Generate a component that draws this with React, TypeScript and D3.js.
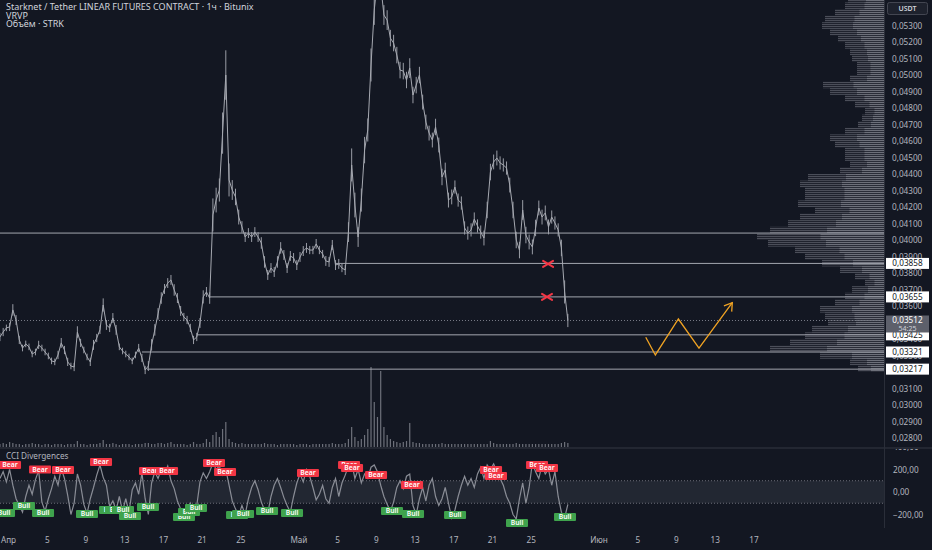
import React, { useEffect, useRef } from "react";
import * as d3 from "d3";

// ---- data ----
const DAY_MS = 86400000;
const BASE = Date.UTC(2025, 3, 1); // 1 Apr
const toDate = (d: number) => new Date(BASE + d * DAY_MS);

// 8h closes, first one at 31 Mar 04:00
const priceStartDay = -5 / 6;
const priceStepDay = 1 / 3;
const closes = [
  0.03412, 0.03442, 0.03467, 0.03473, 0.03576, 0.03515, 0.03394, 0.03345, 0.0337, 0.03352,
  0.03309, 0.03321, 0.03364, 0.03345, 0.03321, 0.03297, 0.03267, 0.03261, 0.03303, 0.03376,
  0.03333, 0.03261, 0.03236, 0.0323, 0.03442, 0.03376, 0.03333, 0.03291, 0.03261, 0.03364,
  0.03406, 0.03455, 0.03606, 0.03485, 0.03467, 0.03527, 0.03455, 0.03352, 0.03327, 0.03309,
  0.03291, 0.03267, 0.03303, 0.03345, 0.03285, 0.03212, 0.03236, 0.03364, 0.03455, 0.03552,
  0.03648, 0.03703, 0.03739, 0.03758, 0.03697, 0.03648, 0.0357, 0.03533, 0.03515, 0.03467,
  0.03394, 0.03412, 0.03497, 0.03655, 0.03685, 0.03648, 0.04152, 0.04242, 0.04303, 0.04648,
  0.05, 0.04364, 0.04303, 0.04261, 0.04139, 0.04079, 0.04018, 0.04042, 0.04018, 0.04048,
  0.04018, 0.03982, 0.03867, 0.03788, 0.0383, 0.03806, 0.03867, 0.03952, 0.03909, 0.0383,
  0.03903, 0.03891, 0.03848, 0.03897, 0.03933, 0.03952, 0.03939, 0.03939, 0.03976, 0.03939,
  0.03915, 0.03873, 0.03867, 0.0397, 0.03848, 0.03855, 0.0383, 0.03818, 0.04048, 0.04455,
  0.04212, 0.04018, 0.04242, 0.04545, 0.04667, 0.05061, 0.05394, 0.05576, 0.05545, 0.05364,
  0.05333, 0.05224, 0.05194, 0.05121, 0.0503, 0.05024, 0.0497, 0.05042, 0.04879, 0.04939,
  0.05, 0.04836, 0.04715, 0.04648, 0.04606, 0.04685, 0.04576, 0.04382, 0.04424, 0.04242,
  0.04261, 0.04321, 0.04242, 0.04224, 0.04073, 0.04042, 0.04061, 0.04127, 0.04085, 0.04048,
  0.04012, 0.04182, 0.04412, 0.04473, 0.04497, 0.04467, 0.04455, 0.04436, 0.04333, 0.04182,
  0.04, 0.03939, 0.04182, 0.0403, 0.03988, 0.03958, 0.04073, 0.04194, 0.04139, 0.04164,
  0.04079, 0.04139, 0.04103, 0.04061, 0.03952, 0.03685, 0.03512,
];
// high-low range of each 8h bar, in 0.0001
const ranges = [
  5, 5, 4, 5, 7, 6, 5, 4, 4, 4, 4, 4, 5, 4, 4, 4, 4, 4, 5, 6,
  5, 5, 4, 5, 7, 5, 4, 4, 5, 6, 5, 5, 8, 6, 5, 6, 6, 4, 4, 4,
  4, 4, 4, 5, 5, 5, 6, 7, 7, 7, 7, 6, 6, 6, 7, 6, 6, 5, 5, 5,
  5, 5, 6, 8, 6, 7, 20, 15, 14, 25, 30, 20, 12, 10, 9, 7, 6, 6, 6, 6,
  6, 7, 7, 6, 6, 6, 7, 7, 6, 6, 6, 6, 6, 6, 6, 6, 5, 5, 6, 5,
  5, 6, 6, 6, 6, 6, 5, 6, 12, 20, 15, 12, 14, 16, 14, 20, 18, 15, 15, 12,
  12, 10, 10, 10, 10, 10, 10, 12, 10, 10, 10, 9, 9, 9, 9, 10, 9, 10, 9, 9,
  9, 8, 8, 8, 8, 8, 8, 8, 8, 8, 9, 10, 10, 9, 9, 8, 8, 8, 9, 10,
  10, 10, 12, 10, 9, 9, 10, 9, 9, 9, 9, 8, 8, 8, 10, 14, 8,
];
const volumes = [
  3, 4, 3, 5, 4, 3, 3, 2, 3, 3, 4, 3, 3, 2, 3, 3, 2, 3, 3, 3,
  2, 3, 3, 3, 6, 3, 3, 2, 3, 3, 3, 4, 7, 3, 3, 4, 3, 2, 3, 3,
  3, 2, 3, 3, 3, 4, 4, 3, 3, 4, 4, 3, 4, 5, 3, 3, 3, 3, 2, 3,
  5, 3, 3, 4, 8, 5, 12, 15, 10, 18, 25, 8, 5, 4, 3, 4, 3, 3, 3, 3,
  3, 3, 4, 3, 3, 3, 2, 3, 3, 3, 3, 3, 2, 3, 3, 3, 2, 3, 3, 3,
  3, 3, 3, 4, 3, 3, 3, 4, 8, 20, 10, 6, 8, 12, 18, 80, 45, 30, 76, 20,
  12, 8, 6, 5, 4, 5, 6, 24, 5, 4, 4, 3, 3, 3, 3, 3, 3, 4, 3, 3,
  3, 3, 3, 3, 3, 3, 3, 3, 3, 3, 3, 3, 6, 4, 3, 3, 3, 3, 3, 3,
  4, 3, 3, 3, 3, 3, 3, 3, 3, 3, 3, 3, 3, 3, 4, 5, 4,
];
const cciValues = [
  120, 180, 90, 200, 60, -60, -120, -180, -40, 60, -20, 110, 190, -90, -170, -60, 30, 140, 60, 210,
  120, -30, -200, -100, 160, 60, -110, -190, -60, 40, 150, 240, 130, 60, -130, -80, -160, -40, -170, -60,
  -180, 20, 80, -20, 170, -60, -200, 80, 180, 120, 200, 160, 230, 100, 30, -80, -150, -220, -160, -100,
  -190, -120, 90, 170, 120, 180, 260, 200, 230, 150, 200, 60, -80, -150, -210, -120, -200, -60, 40, 100,
  20, -90, -160, -190, -40, 60, 120, 40, -50, -120, -180, -40, 80, 160, 90, 200, 140, 40, -70, -20,
  60, -60, -100, 40, 120, -40, 80, 150, 230, 260, 120, 200, 80, 160, 120, 220, 240, 180, 60, -40,
  -110, -170, -90, 40, 100, 30, 140, 160, -120, -200, -60, 40, -80, 60, 120, -40, -120, -60, 40, -100,
  -230, -160, -40, 60, 140, 60, 120, 40, 160, 220, 120, 240, 200, 250, 180, 120, 60, -40, -100, -200,
  -240, -60, 80, -100, 40, 260, 180, 120, 240, 160, 200, 60, 180, -40, -180, -230, -110,
];

const bearDays = [-1.14, 0.21, 3.31, 5.68, 9.61, 14.67, 16.43, 21.28, 22.42, 30.99, 35.23, 35.54, 38.02, 41.74, 49.9, 50.41, 54.65, 55.68];
const bearValues = [240, 240, 200, 196, 267, 187, 187, 258, 178, 169, 240, 213, 151, 62, 196, 142, 240, 213];
const bullDays = [-0.41, 1.65, 3.62, 8.16, 10.54, 11.16, 11.88, 12.6, 14.46, 18.18, 18.7, 19.42, 23.66, 24.28, 26.76, 29.34, 39.67, 41.84, 46.18, 52.58, 57.54];
const bullValues = [-187, -124, -187, -196, -160, -160, -160, -213, -133, -222, -178, -142, -204, -196, -169, -187, -169, -196, -204, -276, -222];

// volume profile, bins of 0.0004 starting at 0.0320
const vpStart = 0.032;
const vpStep = 0.0004;
const vpVolumes = [
  26, 34, 64, 114, 94, 79, 72, 56, 59, 64, 49, 39, 32, 19, 29, 44, 62, 79, 89, 116,
  127, 114, 96, 84, 69, 86, 79, 79, 84, 76, 44, 34, 39, 39, 49, 54, 39, 26, 22, 19,
  29, 39, 54, 61, 34, 27, 27, 32, 34, 39, 46, 54, 62, 59, 49, 39, 36,
];

const levelPrices = [0.04042, 0.03858, 0.03655, 0.03425, 0.03321, 0.03217];
const levelFromDays = [-1, 33.78, 20.87, 19.53, 13.84, 14.36];
const levelLabels = ["", "0,03858", "0,03655", "0,03425", "0,03321", "0,03217"];

const lastPrice = 0.03512;
const countdown = "54:25";

const zigDays = [65.88, 66.87, 69.25, 71.38, 74.82];
const zigPrices = [0.0341, 0.03303, 0.03521, 0.03344, 0.0362];

const crossDays = [55.79, 55.68];
const crossPrices = [0.03855, 0.03655];

// price ticks in 0.001 (those hidden under the tags left out)
const priceTicks = [27, 28, 29, 30, 31, 33, 34, 36, 37, 38, 39, 40, 41, 42, 43, 44, 45, 46, 47, 48, 49, 50, 51, 52, 53];
const tickDays = [0, 4, 8, 12, 16, 20, 24, 30, 34, 38, 42, 46, 50, 54, 61, 65, 69, 73, 77];
const tickLabels = ["Апр", "5", "9", "13", "17", "21", "25", "Май", "5", "9", "13", "17", "21", "25", "Июн", "5", "9", "13", "17"];

const cciTicks = [400, 200, 0, -200];

// ---- layout ----
const W = 932;
const H = 550;
const PANE_R = 884;
const PRICE_BOTTOM = 447;
const CCI_TOP = 449;
const CCI_BOTTOM = 528;
const FONT = "'Noto Sans', sans-serif";
const BG = "#131722";
const TEXT = "#b2b5be";
const AXIS_FS = 8.2;

const x = d3.scaleUtc().domain([toDate(0), toDate(77)]).range([8, 753.4]);
const yP = d3.scaleLinear().domain([0.02745, 0.05455]).range([PRICE_BOTTOM, 0]);
const yC = d3.scaleLinear().domain([-320, 382]).range([CCI_BOTTOM, CCI_TOP]);
const volH = d3.scaleLinear().domain([0, 80]).range([0, 80]);
const vpW = d3.scaleLinear().domain([0, 127]).range([0, 127]);

const comma = (f: string) => (v: number) => d3.format(f)(v).replace(".", ",");

function PriceAxis() {
  const ref = useRef<SVGGElement>(null);
  useEffect(() => {
    if (!ref.current) return;
    const g = d3.select(ref.current);
    g.call(
      d3
        .axisRight(yP)
        .tickValues(priceTicks.map((k) => k / 1000))
        .tickSize(0)
        .tickPadding(8)
        .tickFormat((d) => comma(".5f")(d as number))
    );
    g.select(".domain").remove();
    g.selectAll("text").attr("fill", TEXT).style("font", `${AXIS_FS}px ${FONT}`);
  }, []);
  return <g ref={ref} transform={`translate(${PANE_R},0)`} clipPath="url(#clipPAxis)" />;
}

function CciAxis() {
  const ref = useRef<SVGGElement>(null);
  useEffect(() => {
    if (!ref.current) return;
    const g = d3.select(ref.current);
    g.call(
      d3
        .axisRight(yC)
        .tickValues(cciTicks)
        .tickSize(0)
        .tickPadding(9)
        .tickFormat((d) => comma(".2f")(d as number))
    );
    g.select(".domain").remove();
    g.selectAll("text").attr("fill", TEXT).style("font", `${AXIS_FS}px ${FONT}`);
  }, []);
  return <g ref={ref} transform={`translate(${PANE_R},0)`} clipPath="url(#clipCAxis)" />;
}

function TimeAxis() {
  const ref = useRef<SVGGElement>(null);
  useEffect(() => {
    if (!ref.current) return;
    const g = d3.select(ref.current);
    g.call(
      d3
        .axisBottom(x)
        .tickValues(tickDays.map(toDate))
        .tickSize(0)
        .tickPadding(9)
        .tickFormat((_, i) => tickLabels[i])
    );
    g.select(".domain").remove();
    g.selectAll("text").attr("fill", TEXT).style("font", `${AXIS_FS}px ${FONT}`);
  }, []);
  return <g ref={ref} transform={`translate(0,${CCI_BOTTOM})`} />;
}

function Tag({ cx, cy, text, fill }: { cx: number; cy: number; text: string; fill: string }) {
  return (
    <g>
      <rect x={cx - 11} y={cy - 4} width={22} height={8} rx={1} fill={fill} />
      <text x={cx} y={cy + 2.4} textAnchor="middle" fontSize={6.8} fontWeight={600} fill="#ffffff" fontFamily={FONT}>
        {text}
      </text>
    </g>
  );
}

export default function App() {
  const priceDate = (i: number) => toDate(priceStartDay + i * priceStepDay);
  const priceLine = d3
    .line<number>()
    .x((_, i) => x(priceDate(i)))
    .y((d) => yP(d));
  const cciLine = d3
    .line<number>()
    .x((_, i) => x(priceDate(i)))
    .y((d) => yC(d));
  const zigLine = d3
    .line<number>()
    .x((_, i) => x(toDate(zigDays[i])))
    .y((d) => yP(d));

  // arrow head on the last zigzag leg
  const n = zigPrices.length;
  const ax = x(toDate(zigDays[n - 1]));
  const ay = yP(zigPrices[n - 1]);
  const bx = x(toDate(zigDays[n - 2]));
  const by = yP(zigPrices[n - 2]);
  const ang = Math.atan2(ay - by, ax - bx);
  const head = [ang + Math.PI * 0.82, ang - Math.PI * 0.82].map((a) => [ax + Math.cos(a) * 9, ay + Math.sin(a) * 9]);

  const yLast = yP(lastPrice);

  return (
    <div style={{ position: "fixed", left: 0, top: 0, width: W, height: H, background: BG }}>
      <svg width={W} height={H} style={{ display: "block", fontFamily: FONT }}>
        <defs>
          <clipPath id="clipPrice">
            <rect x={0} y={0} width={PANE_R} height={PRICE_BOTTOM} />
          </clipPath>
          <clipPath id="clipCci">
            <rect x={0} y={CCI_TOP} width={PANE_R} height={CCI_BOTTOM - CCI_TOP} />
          </clipPath>
          <clipPath id="clipPAxis">
            <rect x={0} y={0} width={48} height={PRICE_BOTTOM} />
          </clipPath>
          <clipPath id="clipCAxis">
            <rect x={0} y={CCI_TOP} width={48} height={CCI_BOTTOM - CCI_TOP} />
          </clipPath>
          <pattern id="vpOuter" width={4} height={2} patternUnits="userSpaceOnUse">
            <rect width={4} height={1.2} fill="rgba(120,123,134,0.55)" />
          </pattern>
          <pattern id="vpInner" width={4} height={2} patternUnits="userSpaceOnUse">
            <rect width={4} height={1.2} fill="rgba(150,153,162,0.45)" />
          </pattern>
        </defs>
        <rect width={W} height={H} fill={BG} />

        {/* price pane */}
        <g clipPath="url(#clipPrice)">
          {/* volume profile */}
          {vpVolumes.map((v, k) => {
            const y0 = yP(vpStart + (k + 1) * vpStep);
            const y1 = yP(vpStart + k * vpStep);
            const w = vpW(v);
            return (
              <g key={`vp-${k}`}>
                <rect x={PANE_R - w} y={y0} width={w} height={y1 - y0} fill="url(#vpOuter)" />
                <rect x={PANE_R - w * 0.5} y={y0} width={w * 0.5} height={y1 - y0} fill="url(#vpInner)" />
              </g>
            );
          })}

          {/* volume */}
          {volumes.map((v, i) => (
            <rect
              key={`vol-${i}`}
              x={x(priceDate(i)) - 0.6}
              y={PRICE_BOTTOM - volH(v)}
              width={1.2}
              height={volH(v)}
              fill="rgba(140,143,152,0.75)"
            />
          ))}

          {/* levels */}
          {levelPrices.map((p, k) => (
            <line
              key={`lvl-${k}`}
              x1={x(toDate(levelFromDays[k]))}
              x2={PANE_R}
              y1={yP(p)}
              y2={yP(p)}
              stroke="#a3a6af"
              strokeWidth={1}
            />
          ))}
          <line x1={0} x2={PANE_R} y1={yLast} y2={yLast} stroke="#787b86" strokeWidth={1} strokeDasharray="1,2" />

          {/* bar ranges + close line */}
          {closes.map((c, i) => (
            <line
              key={`bar-${i}`}
              x1={x(priceDate(i))}
              x2={x(priceDate(i))}
              y1={yP(c + (ranges[i] * 0.0001) / 2)}
              y2={yP(c - (ranges[i] * 0.0001) / 2)}
              stroke="#9a9da6"
              strokeWidth={1}
            />
          ))}
          <path d={priceLine(closes) ?? ""} fill="none" stroke="#a6a9b1" strokeWidth={1} strokeLinejoin="round" />

          {/* crosses */}
          {crossDays.map((d, k) => {
            const cx = x(toDate(d));
            const cy = yP(crossPrices[k]);
            return (
              <g key={`x-${k}`} stroke="#f23645" strokeWidth={2} strokeLinecap="round">
                <line x1={cx - 5} y1={cy - 3} x2={cx + 5} y2={cy + 3} />
                <line x1={cx - 5} y1={cy + 3} x2={cx + 5} y2={cy - 3} />
              </g>
            );
          })}

          {/* zigzag projection */}
          <path d={zigLine(zigPrices) ?? ""} fill="none" stroke="#f0a323" strokeWidth={1.3} strokeLinejoin="miter" />
          <path
            d={`M${head[0][0]},${head[0][1]}L${ax},${ay}L${head[1][0]},${head[1][1]}`}
            fill="none"
            stroke="#f0a323"
            strokeWidth={1.3}
          />
        </g>

        {/* header */}
        <g fontFamily={FONT} fill="#d1d4dc" fontSize={9}>
          <text x={6} y={10}>Starknet / Tether LINEAR FUTURES CONTRACT · 1ч · Bitunix</text>
          <text x={6} y={18.5}>VRVP</text>
          <text x={6} y={27}>Объём · STRK</text>
        </g>

        {/* pane separators */}
        <line x1={0} x2={W} y1={448} y2={448} stroke="#2a2e39" strokeWidth={1.5} />
        <line x1={PANE_R + 0.5} x2={PANE_R + 0.5} y1={0} y2={CCI_BOTTOM} stroke="#2a2e39" strokeWidth={1} />

        {/* CCI pane */}
        <g clipPath="url(#clipCci)">
          <rect x={0} y={yC(100)} width={PANE_R + 2} height={yC(-100) - yC(100)} fill="rgba(120,123,134,0.16)" />
          <line x1={0} x2={PANE_R + 2} y1={yC(100)} y2={yC(100)} stroke="#6a6d78" strokeDasharray="1,2" />
          <line x1={0} x2={PANE_R + 2} y1={yC(-100)} y2={yC(-100)} stroke="#6a6d78" strokeDasharray="1,2" />
          <path d={cciLine(cciValues) ?? ""} fill="none" stroke="#8a8d96" strokeWidth={1.2} />
          {bearDays.map((d, k) => (
            <Tag key={`bear-${k}`} cx={x(toDate(d))} cy={yC(bearValues[k])} text="Bear" fill="#f23645" />
          ))}
          {bullDays.map((d, k) => (
            <Tag key={`bull-${k}`} cx={x(toDate(d))} cy={yC(bullValues[k])} text="Bull" fill="#3fa34d" />
          ))}
        </g>
        <text x={6} y={459} fontSize={8.2} fill={TEXT} fontFamily={FONT}>
          CCI Divergences
        </text>

        {/* axes */}
        <PriceAxis />
        <CciAxis />
        <TimeAxis />

        {/* USDT box */}
        <rect x={887.5} y={2.5} width={40} height={12} rx={2} fill="#1e222d" stroke="#434651" />
        <text x={907.5} y={11} textAnchor="middle" fontSize={7} fontWeight={600} fill="#d1d4dc" fontFamily={FONT}>
          USDT
        </text>

        {/* level price tags */}
        {levelPrices.map((p, k) =>
          levelLabels[k] ? (
            <g key={`tag-${k}`}>
              <rect x={886} y={yP(p) - 5.5} width={43} height={11} fill="#ffffff" />
              <text x={907.5} y={yP(p) + 2.9} textAnchor="middle" fontSize={AXIS_FS} fill={BG} fontFamily={FONT}>
                {levelLabels[k]}
              </text>
            </g>
          ) : null
        )}
        <rect x={886} y={yLast - 5} width={43} height={17} fill="#5d606b" />
        <text x={907.5} y={yLast + 2.8} textAnchor="middle" fontSize={AXIS_FS} fill="#ffffff" fontFamily={FONT}>
          {comma(".5f")(lastPrice)}
        </text>
        <text x={907.5} y={yLast + 10.2} textAnchor="middle" fontSize={7} fill="#d1d4dc" fontFamily={FONT}>
          {countdown}
        </text>
      </svg>
    </div>
  );
}
